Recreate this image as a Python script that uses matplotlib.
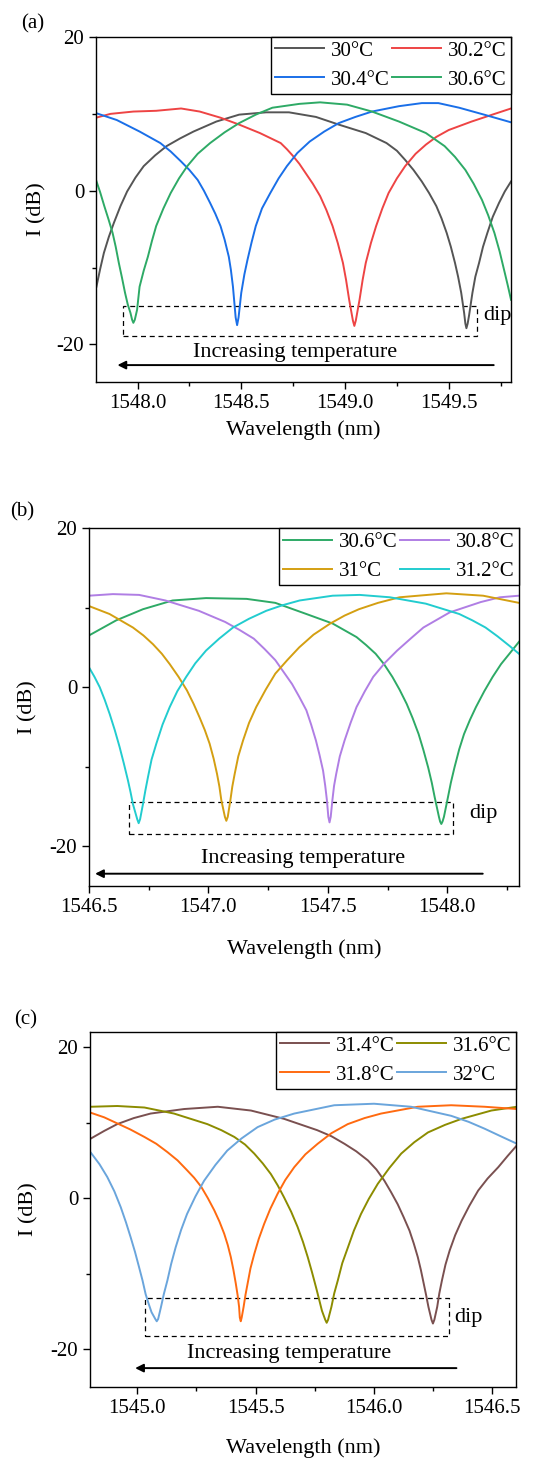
import matplotlib
matplotlib.use("Agg")
import matplotlib.pyplot as plt
from matplotlib.patches import Rectangle
from matplotlib.ticker import MultipleLocator

plt.rcParams['font.family'] = ['Liberation Serif', 'DejaVu Serif']
plt.rcParams['font.size'] = 15
plt.rcParams['axes.unicode_minus'] = False

# ---- panel (a) ----
wl_a_30 = [1547.802, 1547.82, 1547.838, 1547.862, 1547.886, 1547.918, 1547.95, 1547.99, 1548.03, 1548.085,
           1548.14, 1548.205, 1548.27, 1548.38, 1548.49, 1548.62, 1548.73, 1548.86, 1548.97, 1549.10,
           1549.20, 1549.25, 1549.29, 1549.33, 1549.37, 1549.405, 1549.44, 1549.465, 1549.49, 1549.51,
           1549.53, 1549.545, 1549.56, 1549.574, 1549.580, 1549.585, 1549.591, 1549.598, 1549.614, 1549.628,
           1549.646, 1549.665, 1549.686, 1549.712, 1549.742, 1549.77, 1549.80]
db_a_30 = [-12.5, -10.2, -8.1, -6.0, -4.2, -2.0, -0.1, 1.7, 3.2, 4.6,
           5.8, 6.8, 7.7, 9.0, 9.9, 10.2, 10.2, 9.6, 8.6, 7.5,
           6.2, 5.2, 4.0, 2.7, 1.2, -0.3, -2.0, -3.6, -5.5, -7.3,
           -9.4, -11.2, -13.3, -15.9, -17.3, -17.9, -17.3, -16.2, -13.3, -11.2,
           -9.4, -7.3, -5.5, -3.4, -1.6, -0.1, 1.2]

wl_a_302 = [1547.80, 1547.87, 1547.98, 1548.09, 1548.21, 1548.30, 1548.40, 1548.49, 1548.59, 1548.69,
            1548.72, 1548.75, 1548.78, 1548.81, 1548.845, 1548.88, 1548.91, 1548.94, 1548.965, 1548.99,
            1549.005, 1549.02, 1549.038, 1549.045, 1549.052, 1549.07, 1549.085, 1549.10, 1549.125, 1549.15,
            1549.18, 1549.21, 1549.25, 1549.29, 1549.34, 1549.39, 1549.44, 1549.50, 1549.61, 1549.71,
            1549.80]
db_a_302 = [9.5, 10.0, 10.3, 10.4, 10.7, 10.3, 9.5, 8.6, 7.5, 6.2,
            5.4, 4.5, 3.5, 2.3, 0.9, -0.7, -2.5, -4.6, -6.8, -9.4,
            -11.6, -14.2, -16.9, -17.6, -16.9, -14.2, -11.6, -9.4, -6.8, -4.6,
            -2.3, -0.3, 1.6, 3.2, 4.8, 6.0, 7.0, 7.9, 9.0, 9.9,
            10.7]

wl_a_304 = [1547.80, 1547.90, 1548.01, 1548.11, 1548.16, 1548.21, 1548.25, 1548.29, 1548.32, 1548.35,
            1548.375, 1548.40, 1548.42, 1548.44, 1548.45, 1548.46, 1548.473, 1548.48, 1548.487, 1548.50,
            1548.515, 1548.53, 1548.55, 1548.57, 1548.60, 1548.64, 1548.68, 1548.72, 1548.77, 1548.83,
            1548.90, 1548.97, 1549.05, 1549.13, 1549.26, 1549.37, 1549.45, 1549.55, 1549.67, 1549.80]
db_a_304 = [10.1, 9.2, 7.7, 6.2, 5.1, 3.8, 2.7, 1.4, 0.0, -1.6,
            -3.0, -4.6, -6.4, -8.6, -10.3, -12.5, -16.5, -17.5, -16.5, -13.3,
            -10.9, -9.0, -6.7, -4.6, -2.3, -0.3, 1.6, 3.2, 4.9, 6.4,
            7.7, 8.8, 9.6, 10.3, 11.0, 11.4, 11.4, 10.8, 9.9, 8.9]

wl_a_306 = [1547.80, 1547.82, 1547.84, 1547.86, 1547.88, 1547.895, 1547.91, 1547.925, 1547.94, 1547.953,
            1547.966, 1547.974, 1547.98, 1547.987, 1547.998, 1548.004, 1548.01, 1548.03, 1548.05, 1548.07,
            1548.09, 1548.125, 1548.16, 1548.20, 1548.24, 1548.29, 1548.35, 1548.42, 1548.49, 1548.57,
            1548.65, 1548.78, 1548.88, 1549.01, 1549.13, 1549.26, 1549.39, 1549.48, 1549.53, 1549.58,
            1549.62, 1549.66, 1549.69, 1549.72, 1549.745, 1549.77, 1549.785, 1549.80]
db_a_306 = [1.4, -0.2, -2.0, -3.7, -5.5, -7.3, -9.4, -11.3, -13.3, -14.8,
            -15.9, -16.8, -17.2, -16.8, -15.5, -14.0, -12.5, -10.4, -8.6, -6.5,
            -4.6, -2.3, -0.3, 1.6, 3.2, 4.8, 6.2, 7.6, 8.8, 9.9,
            10.8, 11.3, 11.5, 11.2, 10.3, 9.0, 7.5, 5.8, 4.4, 2.7,
            0.9, -1.2, -3.2, -5.5, -7.9, -10.7, -12.4, -14.2]

# ---- panel (b) ----
wl_b_306 = [1546.50, 1546.614, 1546.726, 1546.85, 1546.99, 1547.16, 1547.28, 1547.41, 1547.52, 1547.62,
            1547.66, 1547.70, 1547.735, 1547.77, 1547.80, 1547.83, 1547.855, 1547.88, 1547.90, 1547.92,
            1547.935, 1547.947, 1547.965, 1547.970, 1547.975, 1547.980, 1547.986, 1548.003, 1548.015, 1548.03,
            1548.05, 1548.07, 1548.095, 1548.12, 1548.155, 1548.19, 1548.225, 1548.26, 1548.30]
db_b_306 = [6.5, 8.4, 9.8, 10.9, 11.2, 11.1, 10.6, 9.2, 8.0, 6.3,
            5.3, 4.2, 2.9, 1.3, -0.3, -2.1, -3.9, -5.9, -7.9, -10.1,
            -12.0, -13.8, -16.3, -16.9, -17.2, -16.9, -16.3, -13.8, -12.0, -10.1,
            -7.8, -5.9, -4.1, -2.5, -0.5, 1.3, 2.9, 4.2, 5.7]

wl_b_308 = [1546.50, 1546.60, 1546.71, 1546.82, 1546.96, 1547.07, 1547.13, 1547.19, 1547.235, 1547.28,
            1547.315, 1547.35, 1547.38, 1547.41, 1547.43, 1547.45, 1547.465, 1547.48, 1547.489, 1547.496,
            1547.502, 1547.507, 1547.512, 1547.519, 1547.526, 1547.535, 1547.55, 1547.57, 1547.595, 1547.62,
            1547.655, 1547.69, 1547.74, 1547.79, 1547.85, 1547.90, 1548.01, 1548.14, 1548.22, 1548.30]
db_b_308 = [11.5, 11.7, 11.6, 10.9, 9.6, 8.2, 7.2, 6.1, 4.8, 3.4,
            1.9, 0.4, -1.2, -2.9, -4.7, -6.7, -8.5, -10.5, -12.4, -14.2,
            -16.3, -17.0, -16.3, -14.2, -12.4, -10.9, -8.7, -6.7, -4.5, -2.5,
            -0.5, 1.3, 3.1, 4.6, 6.2, 7.5, 9.4, 10.7, 11.3, 11.5]

wl_b_31 = [1546.50, 1546.586, 1546.684, 1546.728, 1546.768, 1546.805, 1546.838, 1546.875, 1546.91, 1546.938,
           1546.963, 1546.985, 1547.005, 1547.022, 1547.036, 1547.046, 1547.054, 1547.069, 1547.075, 1547.081,
           1547.092, 1547.10, 1547.11, 1547.125, 1547.145, 1547.17, 1547.20, 1547.24, 1547.28, 1547.33,
           1547.38, 1547.44, 1547.51, 1547.57, 1547.63, 1547.71, 1547.80, 1547.996, 1548.15, 1548.30]
db_b_31 = [10.2, 9.2, 7.5, 6.5, 5.4, 4.2, 2.9, 1.3, -0.4, -2.1,
           -3.8, -5.4, -7.1, -9.0, -10.9, -12.5, -14.2, -16.3, -16.8, -16.3,
           -14.2, -12.5, -10.9, -8.7, -6.7, -4.5, -2.5, -0.3, 1.7, 3.4,
           5.0, 6.6, 8.0, 9.0, 9.8, 10.6, 11.3, 11.8, 11.5, 10.6]

wl_b_312 = [1546.50, 1546.523, 1546.545, 1546.566, 1546.587, 1546.608, 1546.628, 1546.646, 1546.663, 1546.674,
            1546.684, 1546.702, 1546.708, 1546.714, 1546.726, 1546.736, 1546.747, 1546.762, 1546.782, 1546.808,
            1546.838, 1546.87, 1546.907, 1546.945, 1546.99, 1547.045, 1547.103, 1547.17, 1547.242, 1547.31,
            1547.382, 1547.52, 1547.633, 1547.76, 1547.91, 1548.05, 1548.105, 1548.16, 1548.21, 1548.26,
            1548.30]
db_b_312 = [2.5, 1.3, 0.0, -1.6, -3.4, -5.4, -7.5, -9.6, -11.7, -13.2,
            -14.7, -16.6, -17.1, -16.6, -14.7, -13.0, -11.3, -9.1, -7.1, -4.7,
            -2.5, -0.5, 1.3, 3.0, 4.6, 6.1, 7.5, 8.6, 9.6, 10.3,
            10.9, 11.5, 11.6, 11.3, 10.5, 9.2, 8.4, 7.5, 6.4, 5.2,
            4.2]

# ---- panel (c) ----
wl_c_314 = [1544.804, 1544.86, 1544.915, 1544.985, 1545.056, 1545.198, 1545.34, 1545.48, 1545.62, 1545.76,
            1545.82, 1545.875, 1545.925, 1545.974, 1546.01, 1546.044, 1546.072, 1546.10, 1546.125, 1546.15,
            1546.168, 1546.185, 1546.198, 1546.21, 1546.22, 1546.23, 1546.243, 1546.249, 1546.255, 1546.267,
            1546.276, 1546.287, 1546.302, 1546.32, 1546.343, 1546.37, 1546.403, 1546.44, 1546.48, 1546.525,
            1546.565, 1546.604]
db_c_314 = [7.9, 8.9, 9.8, 10.6, 11.2, 11.8, 12.1, 11.6, 10.5, 9.0,
            8.2, 7.2, 6.2, 5.0, 3.8, 2.3, 0.8, -0.8, -2.5, -4.3,
            -6.0, -7.8, -9.5, -11.3, -12.8, -14.4, -16.1, -16.6, -16.1, -14.4,
            -12.6, -10.9, -8.8, -6.9, -4.9, -3.0, -1.0, 1.0, 2.6, 4.1,
            5.6, 7.0]

wl_c_316 = [1544.804, 1544.915, 1545.03, 1545.155, 1545.296, 1545.355, 1545.41, 1545.455, 1545.494, 1545.53,
            1545.564, 1545.593, 1545.62, 1545.65, 1545.677, 1545.70, 1545.72, 1545.738, 1545.755, 1545.768,
            1545.78, 1545.794, 1545.80, 1545.806, 1545.82, 1545.832, 1545.847, 1545.866, 1545.89, 1545.915,
            1545.945, 1545.978, 1546.016, 1546.065, 1546.115, 1546.17, 1546.228, 1546.30, 1546.37, 1546.496,
            1546.604]
db_c_316 = [12.1, 12.2, 12.0, 11.2, 9.8, 9.0, 8.1, 7.1, 5.9, 4.6,
            3.2, 1.7, 0.1, -1.8, -3.8, -5.8, -7.8, -9.8, -11.8, -13.4,
            -14.9, -16.1, -16.5, -16.1, -14.4, -12.6, -10.9, -8.6, -6.5, -4.3,
            -2.1, -0.1, 1.9, 4.0, 5.9, 7.4, 8.7, 9.7, 10.5, 11.6,
            12.1]

wl_c_318 = [1544.804, 1544.86, 1544.915, 1544.97, 1545.03, 1545.08, 1545.127, 1545.17, 1545.21, 1545.24,
            1545.27, 1545.298, 1545.325, 1545.347, 1545.367, 1545.382, 1545.395, 1545.406, 1545.416, 1545.424,
            1545.43, 1545.433, 1545.437, 1545.441, 1545.449, 1545.457, 1545.466, 1545.478, 1545.494, 1545.513,
            1545.536, 1545.562, 1545.593, 1545.625, 1545.663, 1545.71, 1545.762, 1545.82, 1545.889, 1545.96,
            1546.03, 1546.185, 1546.326, 1546.467, 1546.604]
db_c_318 = [11.3, 10.7, 9.9, 9.1, 8.1, 7.2, 6.1, 5.0, 3.7, 2.7,
            1.5, 0.0, -1.6, -3.1, -4.7, -6.2, -7.8, -9.5, -11.3, -12.9,
            -14.4, -15.8, -16.3, -15.8, -14.4, -12.8, -11.3, -9.3, -7.4, -5.4,
            -3.4, -1.4, 0.6, 2.4, 4.1, 5.8, 7.2, 8.6, 9.8, 10.6,
            11.2, 12.1, 12.3, 12.1, 11.8]

wl_c_32 = [1544.804, 1544.84, 1544.873, 1544.903, 1544.93, 1544.952, 1544.972, 1544.99, 1545.007, 1545.022,
           1545.035, 1545.048, 1545.06, 1545.076, 1545.082, 1545.088, 1545.10, 1545.112, 1545.127, 1545.143,
           1545.162, 1545.185, 1545.21, 1545.245, 1545.282, 1545.33, 1545.38, 1545.44, 1545.508, 1545.58,
           1545.663, 1545.832, 1546.00, 1546.157, 1546.326, 1546.40, 1546.467, 1546.535, 1546.604]
db_c_32 = [6.0, 4.5, 2.8, 0.9, -1.2, -3.2, -5.2, -7.1, -9.1, -10.9,
           -12.7, -14.0, -15.1, -16.0, -16.3, -16.0, -14.4, -12.7, -10.9, -8.7,
           -6.5, -4.2, -2.1, 0.2, 2.3, 4.4, 6.3, 7.9, 9.4, 10.4,
           11.2, 12.3, 12.5, 12.1, 10.9, 10.1, 9.2, 8.2, 7.2]

fig = plt.figure(figsize=(5.36, 14.58), dpi=100)

panels = [
    dict(rect=[0.1791, 0.738, 0.7743, 0.2366], label='(a)', lab_xy=(0.04, 0.9835),
         xlim=(1547.8, 1549.8), ylim=(-24.9, 20), xticks=[1548.0, 1548.5, 1549.0, 1549.5],
         series=[(wl_a_30, db_a_30, '#555555', '30°C'), (wl_a_302, db_a_302, '#ee4444', '30.2°C'),
                 (wl_a_304, db_a_304, '#1a6fe8', '30.4°C'), (wl_a_306, db_a_306, '#2eaa66', '30.6°C')],
         box=(1547.93, -18.9, 1549.635, -15.0), dip=(1549.665, -16.2),
         arrow=(1549.73, 1547.89, -22.7), incr=(1548.76, -21.1), xlab_y=-0.11),
    dict(rect=[0.166, 0.3923, 0.8022, 0.2455], label='(b)', lab_xy=(0.019, 0.649),
         xlim=(1546.5, 1548.3), ylim=(-25, 20), xticks=[1546.5, 1547.0, 1547.5, 1548.0],
         series=[(wl_b_306, db_b_306, '#2eaa66', '30.6°C'), (wl_b_308, db_b_308, '#b07ee4', '30.8°C'),
                 (wl_b_31, db_b_31, '#d49f12', '31°C'), (wl_b_312, db_b_312, '#22cccf', '31.2°C')],
         box=(1546.667, -18.5, 1548.024, -14.45), dip=(1548.09, -15.9),
         arrow=(1548.16, 1546.514, -23.45), incr=(1547.396, -21.6), xlab_y=-0.148),
    dict(rect=[0.1679, 0.0487, 0.7948, 0.2435], label='(c)', lab_xy=(0.026, 0.3005),
         xlim=(1544.8, 1546.6), ylim=(-25, 22), xticks=[1545.0, 1545.5, 1546.0, 1546.5],
         series=[(wl_c_314, db_c_314, '#7a5050', '31.4°C'), (wl_c_316, db_c_316, '#8c8c00', '31.6°C'),
                 (wl_c_318, db_c_318, '#ff6a10', '31.8°C'), (wl_c_32, db_c_32, '#6aa5dc', '32°C')],
         box=(1545.031, -18.3, 1546.315, -13.2), dip=(1546.34, -15.8),
         arrow=(1546.36, 1544.979, -22.5), incr=(1545.642, -20.5), xlab_y=-0.145),
]

for p in panels:
    ax = fig.add_axes(p['rect'])
    lines = []
    for wl, db, c, name in p['series']:
        ln, = ax.plot(wl, db, color=c, lw=1.4, label=name, solid_joinstyle='round')
        lines.append(ln)
    ax.set_xlim(*p['xlim'])
    ax.set_ylim(*p['ylim'])
    ax.set_xticks(p['xticks'])
    ax.set_xticklabels([f'{t:.1f}' for t in p['xticks']])
    ax.xaxis.set_minor_locator(MultipleLocator(0.25))
    ax.set_yticks([-20, 0, 20])
    ax.yaxis.set_minor_locator(MultipleLocator(10))
    ax.tick_params(which='major', direction='out', length=5, width=1, labelsize=15)
    ax.tick_params(which='minor', direction='out', length=3, width=1)
    for s in ax.spines.values():
        s.set_linewidth(1.0)
    ax.set_xlabel('Wavelength (nm)', fontsize=16)
    ax.set_ylabel('I (dB)', fontsize=16)
    ax.xaxis.set_label_coords(0.5, p['xlab_y'])
    ax.yaxis.set_label_coords(-0.12, 0.5)

    # legend filled row-wise
    order = [0, 2, 1, 3]
    leg = ax.legend([lines[i] for i in order], [lines[i].get_label() for i in order],
                    ncol=2, loc='upper right', bbox_to_anchor=(1, 1), borderaxespad=0,
                    fontsize=15, handlelength=2.35, handletextpad=0.35, columnspacing=0.1,
                    labelspacing=0.45, borderpad=0.2, fancybox=False, framealpha=1)
    leg.get_frame().set_edgecolor('black')
    leg.get_frame().set_linewidth(1.0)

    x0, y0, x1, y1 = p['box']
    ax.add_patch(Rectangle((x0, y0), x1 - x0, y1 - y0, fill=False, ls=(0, (4, 3)),
                           lw=0.9, ec='black'))
    ax.text(p['dip'][0], p['dip'][1], 'dip', fontsize=16, ha='left', va='center')
    xs, xe, ya = p['arrow']
    ax.annotate('', xy=(xe, ya), xytext=(xs, ya),
                arrowprops=dict(arrowstyle='-|>', color='black', lw=1.4, mutation_scale=12))
    ax.text(p['incr'][0], p['incr'][1], 'Increasing temperature', fontsize=16,
            ha='center', va='center')

    fig.text(p['lab_xy'][0], p['lab_xy'][1], p['label'], fontsize=15, ha='left', va='center')

fig.savefig('out.png', dpi=100)
